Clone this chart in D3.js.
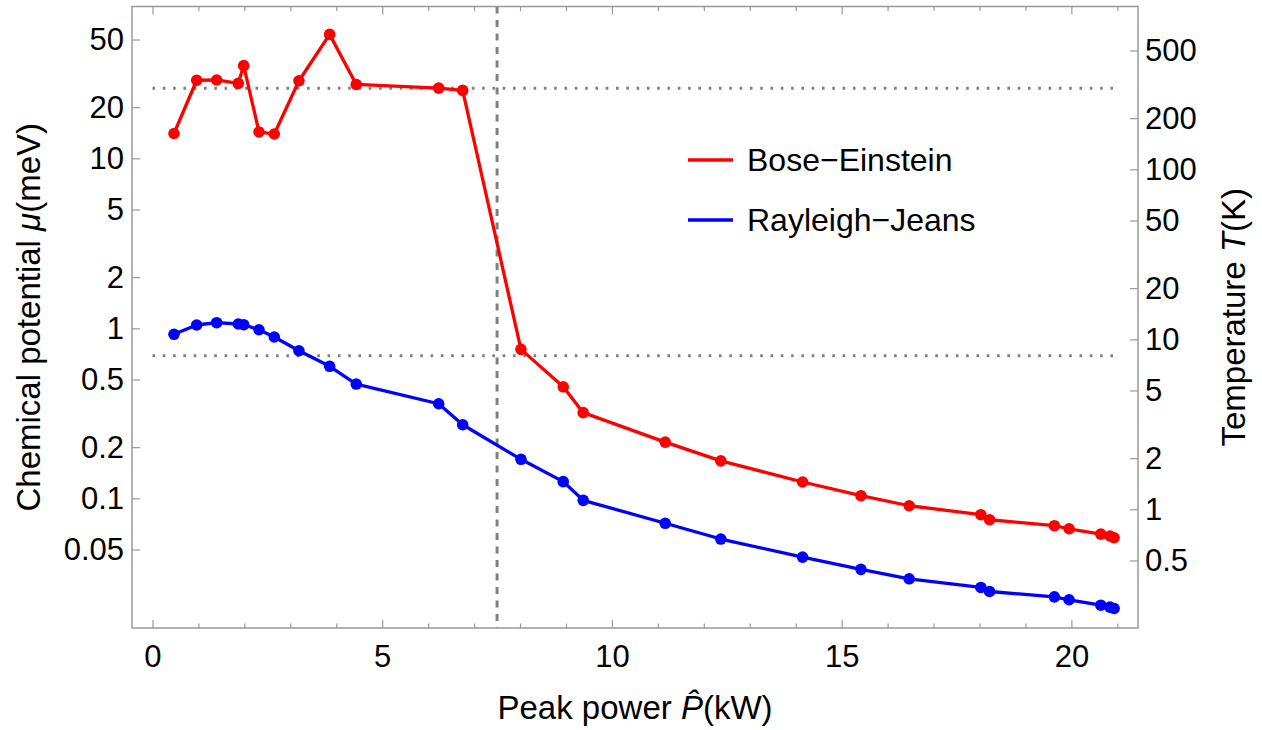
<!DOCTYPE html>
<html>
<head>
<meta charset="utf-8">
<script src="https://cdn.jsdelivr.net/npm/d3@7"></script>
<style>
  body { margin: 0; background: #fff; }
  text { font-family: "Liberation Sans", Arial, sans-serif; fill: #000; }
</style>
</head>
<body>
<div id="chart"></div>
<script>
// peak power (kW), shared by both fits
const power = [0.468, 0.962, 1.397, 1.867, 1.985, 2.318, 2.651, 3.188, 3.856, 4.435, 6.229, 6.751,
  8.02, 8.94, 9.375, 11.16, 12.37, 14.15, 15.42, 16.47, 18.03, 18.22, 19.63, 19.95, 20.64, 20.84, 20.93];
// chemical potential (meV)
const boseEinstein = [14.0, 28.8, 28.9, 27.6, 35.1, 14.3, 13.9, 28.6, 53.6, 27.2, 25.9, 25.1,
  0.752, 0.453, 0.319, 0.214, 0.166, 0.1247, 0.1036, 0.0904, 0.0801, 0.0748, 0.0690, 0.0662, 0.0616, 0.0600, 0.0586];
const rayleighJeans = [0.922, 1.046, 1.079, 1.060, 1.050, 0.981, 0.889, 0.738, 0.598, 0.470, 0.360, 0.271,
  0.1696, 0.1253, 0.0973, 0.0713, 0.0576, 0.0451, 0.0382, 0.0336, 0.0299, 0.0283, 0.0263, 0.0253, 0.0235, 0.0229, 0.0225];

const muTicks = [0.05, 0.1, 0.2, 0.5, 1, 2, 5, 10, 20, 50];
const tTicks = [0.5, 1, 2, 5, 10, 20, 50, 100, 200, 500];
const xTicks = [0, 5, 10, 15, 20];
const refTemps = [300, 8];   // dotted lines (K)
const refPower = 7.5;        // dashed line (kW)
const kB = 0.08617;          // meV per K

const width = 1262, height = 730;
const margin = { top: 6.5, right: 124, bottom: 102, left: 132 };

const svg = d3.select("#chart").append("svg")
  .attr("width", width)
  .attr("height", height);

const x = d3.scaleLinear()
  .domain([-0.446, 21.45])
  .range([margin.left, width - margin.right]);

const y = d3.scaleLog()
  .domain([0.01726, 78.2])
  .range([height - margin.bottom, margin.top]);

const yT = d3.scaleLog()
  .domain(y.domain().map(d => d / kB))
  .range(y.range());

const frameColor = "#999";

// reference lines
svg.selectAll(".ref")
  .data(refTemps)
  .enter()
  .append("line")
  .attr("x1", x(0))
  .attr("x2", x(21))
  .attr("y1", d => yT(d))
  .attr("y2", d => yT(d))
  .attr("stroke", "#808080")
  .attr("stroke-width", 3)
  .attr("stroke-dasharray", "2.6,7.7");

svg.append("line")
  .attr("x1", x(refPower))
  .attr("x2", x(refPower))
  .attr("y1", y.range()[1])
  .attr("y2", y.range()[0])
  .attr("stroke", "#808080")
  .attr("stroke-width", 3)
  .attr("stroke-dasharray", "7,6.5");

// series
const series = [
  { name: "Bose\u2212Einstein", values: boseEinstein, color: "#ff0000" },
  { name: "Rayleigh\u2212Jeans", values: rayleighJeans, color: "#0000ff" }
];

const line = d3.line()
  .x(d => x(d[0]))
  .y(d => y(d[1]));

series.forEach(s => {
  const pts = power.map((p, i) => [p, s.values[i]]);
  svg.append("path")
    .datum(pts)
    .attr("fill", "none")
    .attr("stroke", s.color)
    .attr("stroke-width", 3.3)
    .attr("stroke-linejoin", "round")
    .attr("d", line);
  svg.append("g")
    .selectAll("circle")
    .data(pts)
    .enter()
    .append("circle")
    .attr("cx", d => x(d[0]))
    .attr("cy", d => y(d[1]))
    .attr("r", 5.8)
    .attr("fill", s.color);
});

// frame
svg.append("rect")
  .attr("x", margin.left)
  .attr("y", margin.top)
  .attr("width", width - margin.left - margin.right)
  .attr("height", height - margin.top - margin.bottom)
  .attr("fill", "none")
  .attr("stroke", frameColor)
  .attr("stroke-width", 1.5);

const minorX = d3.range(0, 22).filter(d => d % 5 !== 0);

function styleAxis(g, size) {
  g.select(".domain").remove();
  g.selectAll(".tick line").attr("stroke", frameColor).attr("stroke-width", 1.2);
  g.selectAll(".tick text").style("font-size", size + "px");
}

// bottom axis
svg.append("g")
  .attr("transform", `translate(0,${y.range()[0]})`)
  .call(d3.axisBottom(x).tickValues(xTicks).tickSize(-8).tickPadding(17).tickFormat(d3.format("d")))
  .call(g => styleAxis(g, 31));
svg.append("g")
  .attr("transform", `translate(0,${y.range()[0]})`)
  .call(d3.axisBottom(x).tickValues(minorX).tickSize(-4.5).tickFormat(""))
  .call(g => styleAxis(g, 31));

// top axis (ticks only)
svg.append("g")
  .attr("transform", `translate(0,${y.range()[1]})`)
  .call(d3.axisTop(x).tickValues(xTicks).tickSize(-8).tickFormat(""))
  .call(g => styleAxis(g, 31));
svg.append("g")
  .attr("transform", `translate(0,${y.range()[1]})`)
  .call(d3.axisTop(x).tickValues(minorX).tickSize(-4.5).tickFormat(""))
  .call(g => styleAxis(g, 31));

// left axis
svg.append("g")
  .attr("transform", `translate(${x.range()[0]},0)`)
  .call(d3.axisLeft(y).tickValues(muTicks).tickSize(-8).tickPadding(8).tickFormat(d => String(d)))
  .call(g => styleAxis(g, 31));

// right axis
svg.append("g")
  .attr("transform", `translate(${x.range()[1]},0)`)
  .call(d3.axisRight(yT).tickValues(tTicks).tickSize(-8).tickPadding(7).tickFormat(d => String(d)))
  .call(g => styleAxis(g, 31));

// axis titles
const xTitle = svg.append("text")
  .attr("x", (x.range()[0] + x.range()[1]) / 2)
  .attr("y", 719)
  .attr("text-anchor", "middle")
  .style("font-size", "33px");
xTitle.append("tspan").text("Peak power ");
xTitle.append("tspan").style("font-style", "italic").text("P\u0302");
xTitle.append("tspan").text("(kW)");

const midY = (y.range()[0] + y.range()[1]) / 2;

const yTitle = svg.append("text")
  .attr("transform", `translate(40,${midY}) rotate(-90)`)
  .attr("text-anchor", "middle")
  .style("font-size", "33px");
yTitle.append("tspan").text("Chemical potential ");
yTitle.append("tspan").style("font-style", "italic").text("\u03bc");
yTitle.append("tspan").text("(meV)");

const tTitle = svg.append("text")
  .attr("transform", `translate(1245,${midY}) rotate(-90)`)
  .attr("text-anchor", "middle")
  .style("font-size", "33px");
tTitle.append("tspan").text("Temperature ");
tTitle.append("tspan").style("font-style", "italic").text("T");
tTitle.append("tspan").text("(K)");

// legend
const legend = svg.append("g").attr("transform", "translate(688,160)");
series.forEach((s, i) => {
  const row = legend.append("g").attr("transform", `translate(0,${i * 60})`);
  row.append("line")
    .attr("x1", 0).attr("x2", 45)
    .attr("stroke", s.color)
    .attr("stroke-width", 3.3);
  row.append("text")
    .attr("x", 59)
    .attr("y", 11)
    .style("font-size", "32px")
    .text(s.name);
});
</script>
</body>
</html>
